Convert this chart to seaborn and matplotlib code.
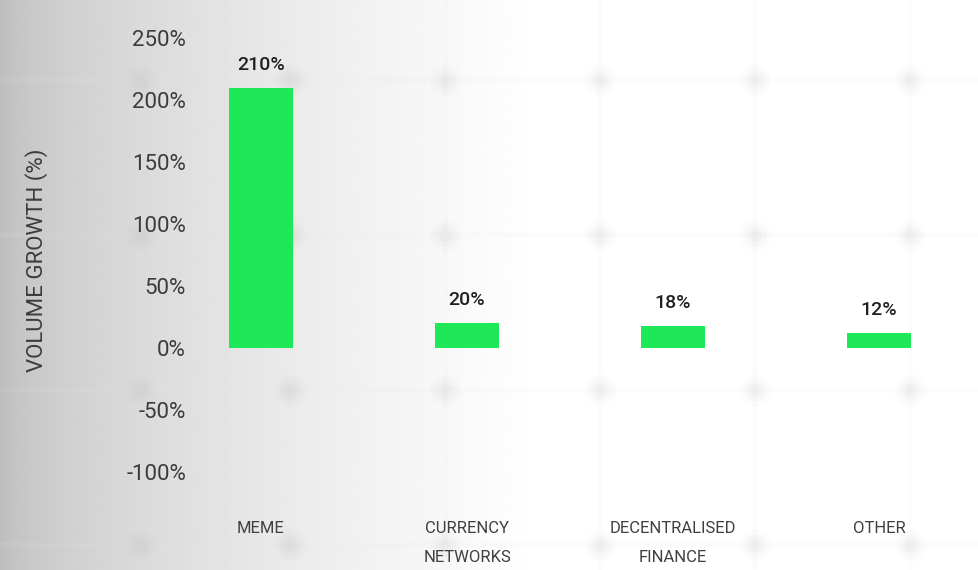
import numpy as np
import pandas as pd
import seaborn as sns
import matplotlib.pyplot as plt

# data
categories = ['MEME', 'CURRENCY\nNETWORKS', 'DECENTRALISED\nFINANCE', 'OTHER']
growth = [210, 20, 18, 12]
value_labels = ['210%', '20%', '18%', '12%']
yticks = [-100, -50, 0, 50, 100, 150, 200, 250]
ytick_labels = ['-100%', '-50%', '0%', '50%', '100%', '150%', '200%', '250%']

df = pd.DataFrame({'category': categories, 'growth': growth})

sns.set_theme(style='white')
plt.rcParams['font.family'] = ['Roboto', 'DejaVu Sans']

W, H = 979, 570
fig = plt.figure(figsize=(W / 100, H / 100), dpi=100)

# background: grey on the left fading to white, with faint blurry grid
bg = fig.add_axes([0, 0, 1, 1])
xs = np.linspace(0, 1, 400)
shade = 0.74 + 0.26 * np.clip(xs / 0.55, 0, 1) ** 0.6
grad = np.tile(shade, (50, 1))
bg.imshow(grad, cmap='gray', vmin=0, vmax=1, aspect='auto',
          extent=[0, W, H, 0], interpolation='bilinear')
for gx in [140, 290, 445, 600, 755, 910]:
    bg.axvline(gx, color='#e8e8e8', lw=4, alpha=0.1, zorder=1)
for gy in [80, 235, 390, 545]:
    bg.axhline(gy, color='#e8e8e8', lw=4, alpha=0.1, zorder=1)
gxs, gys = np.meshgrid([140, 290, 445, 600, 755, 910], [80, 235, 390, 545])
for s, a in [(500, 0.025), (250, 0.035), (90, 0.04)]:
    bg.scatter(gxs.ravel(), gys.ravel(), s=s, color='#8a8a8a', alpha=a,
               linewidths=0, zorder=2)
bg.set_xlim(0, W)
bg.set_ylim(H, 0)
bg.axis('off')

# main axes mapped to the reference pixel layout
left, right, top, bottom = 200, 979, 20, 500
ax = fig.add_axes([left / W, 1 - bottom / H, (right - left) / W, (bottom - top) / H])
ax.patch.set_alpha(0)

sns.barplot(data=df, x='category', y='growth', color='#1ee857',
            saturation=1, width=0.31, linewidth=0, ax=ax, zorder=3)

ax.set_xlim(-0.296, 3.485)
ax.set_ylim(-122.6, 264.5)
ax.set_yticks(yticks)
ax.set_yticklabels(ytick_labels, fontsize=16, color='#3c3c3c')
ax.tick_params(axis='y', length=0, pad=10)
ax.tick_params(axis='x', length=0, pad=15)
for lbl in ax.get_xticklabels():
    lbl.set_fontsize(12)
    lbl.set_color('#404040')
    lbl.set_linespacing(2.15)
    lbl.set_verticalalignment('top')

ax.set_xlabel('')
ax.set_ylabel('VOLUME GROWTH (%)', fontsize=16, color='#3c3c3c', labelpad=56)
for sp in ax.spines.values():
    sp.set_visible(False)

for i, (v, t) in enumerate(zip(growth, value_labels)):
    ax.annotate(t, (i, v), xytext=(0, 10), textcoords='offset points',
                ha='center', va='bottom', fontsize=14, color='#202020',
                fontweight='medium')

fig.savefig('out.png', dpi=100)
